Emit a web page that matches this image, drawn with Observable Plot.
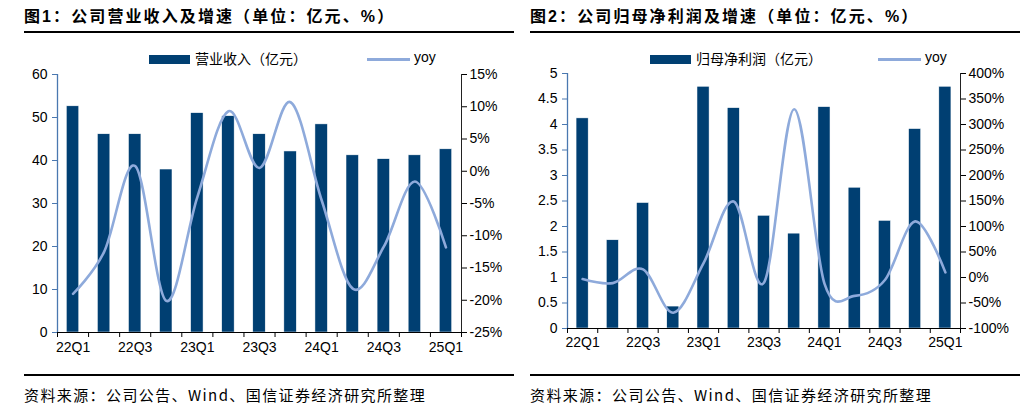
<!DOCTYPE html>
<html><head><meta charset="utf-8">
<script src="https://cdn.jsdelivr.net/npm/d3@7"></script>
<script src="https://cdn.jsdelivr.net/npm/@observablehq/plot@0.6"></script>
<style>
body{margin:0;width:1034px;height:410px;background:#fff;position:relative;overflow:hidden;font-family:"Liberation Sans","Noto Sans CJK SC",sans-serif;color:#000}
.abs{position:absolute}
.title{font-family:"Liberation Sans","Noto Sans CJK SC",sans-serif;font-weight:bold;font-size:16px;letter-spacing:2.1px;white-space:nowrap;line-height:20px}
.rule{height:2px;background:#000}
.src{font-family:"Noto Sans CJK SC",sans-serif;font-size:15px;letter-spacing:1.4px;white-space:nowrap;line-height:20px}
.leg{font-family:"Liberation Sans","Noto Sans CJK SC",sans-serif;font-size:14px;white-space:nowrap;line-height:16px}
svg{overflow:visible}
</style></head>
<body>
<script>
const quarters = ["22Q1","22Q2","22Q3","22Q4","23Q1","23Q2","23Q3","23Q4","24Q1","24Q2","24Q3","24Q4","25Q1"];
const tickLabels = ["22Q1","22Q3","23Q1","23Q3","24Q1","24Q3","25Q1"];
const revenue = [52.6,46.1,46.1,37.9,51.0,50.3,46.1,42.1,48.4,41.2,40.3,41.2,42.6];
const revenueYoy = [-19.0,-12.5,0.8,-20.1,-4.0,9.3,0.5,10.7,-4.5,-18.2,-11.7,-1.6,-11.8];
const profit = [4.12,1.73,2.46,0.43,4.74,4.32,2.21,1.86,4.34,2.76,2.11,3.91,4.74];
const profitYoy = [-3,-11,16,-69,28,149,-10,330,-12,-36,-5,110,10];
const revTicks = [0,10,20,30,40,50,60];
const revYoyTicks = [-25,-20,-15,-10,-5,0,5,10,15];
const profTicks = [0,0.5,1,1.5,2,2.5,3,3.5,4,4.5,5];
const profYoyTicks = [-100,-50,0,50,100,150,200,250,300,350,400];

const BAR = "#003f72", LINE = "#8eaadb", AXISBLUE = "#4a78b0";

function el(html, style){const d=document.createElement("div");d.className="abs "+(html.cls||"");d.innerHTML=html.text||"";Object.assign(d.style,style);document.body.appendChild(d);return d;}

function panel(cfg){
  const {left, title, legendLabel, values, yoy, yTicks, yoyTicks, ml, mr, mt, mb, xLabelPad, legRect, legLine, yFmt} = cfg;
  el({cls:"title", text:title},{left:(left+24)+"px", top:"7px"});
  el({cls:"rule"},{left:(left+24)+"px", top:"31px", width:"490px"});
  el({cls:"rule"},{left:(left+24)+"px", top:"374px", width:"490px"});
  el({cls:"src", text:"资料来源：公司公告、Wind、国信证券经济研究所整理"},{left:(left+24)+"px", top:"385px"});
  // legend
  el({},{left:legRect+"px", top:"55px", width:"41px", height:"9px", background:BAR});
  el({cls:"leg", text:legendLabel},{left:(legRect+46)+"px", top:"51px"});
  el({},{left:legLine+"px", top:"58px", width:"43px", height:"3px", background:LINE});
  el({cls:"leg", text:"yoy"},{left:(legLine+47)+"px", top:"49px"});

  const data = values.map((v,i)=>({i, v, y: yoy[i], q: quarters[i]}));
  const n = quarters.length;
  const W = 517, H = 301;
  const boundaries = d3.range(n+1).map(k=>k-0.5);
  const labelIdx = tickLabels.map(t=>quarters.indexOf(t));
  const common = {width:W, height:H, marginLeft:ml, marginRight:mr, marginTop:mt, marginBottom:mb,
    style:{background:"transparent", fontFamily:"Liberation Sans, Arial, sans-serif", fontSize:"14px", color:"#000", overflow:"visible"}};
  const bars = Plot.plot({...common,
    x:{type:"linear", domain:[-0.5, n-0.5], axis:null},
    y:{domain:[yTicks[0], yTicks[yTicks.length-1]], axis:null},
    marks:[
      Plot.rectY(data,{x1:d=>d.i-0.2, x2:d=>d.i+0.2, y:"v", fill:BAR, stroke:"#fff", strokeWidth:0.5}),
      Plot.ruleX([-0.5],{stroke:AXISBLUE, strokeWidth:1.3}),
      Plot.axisY({ticks:yTicks, tickSize:5, tickPadding:5, stroke:AXISBLUE, fill:"#000", fontSize:14, tickFormat:yFmt, label:null}),
      Plot.ruleY([yTicks[0]],{stroke:"#000", strokeWidth:1}),
      Plot.axisX({ticks:boundaries, tickSize:5, tickFormat:()=>"", stroke:"#000", label:null}),
      Plot.axisX({ticks:labelIdx, tickSize:0, tickPadding:xLabelPad, tickFormat:i=>quarters[i], fontSize:14, fill:"#000", label:null})
    ]});
  const lines = Plot.plot({...common,
    x:{type:"linear", domain:[-0.5, n-0.5], axis:null},
    y:{domain:[yoyTicks[0], yoyTicks[yoyTicks.length-1]], axis:null},
    marks:[
      Plot.line(data,{x:"i", y:"y", stroke:LINE, strokeWidth:2.6, curve:"cardinal"}),
      Plot.ruleX([n-0.5],{stroke:"#222", strokeWidth:1}),
      Plot.axisY({anchor:"right", ticks:yoyTicks, tickSize:5, tickPadding:3, stroke:"#000", fill:"#000", fontSize:14, tickFormat:d=>d+"%", label:null})
    ]});
  for (const s of [bars, lines]) {
    s.style.position="absolute"; s.style.left=left+"px"; s.style.top="64px";
    document.body.appendChild(s);
  }
}

panel({left:0, title:"图1：公司营业收入及增速（单位：亿元、%）", legendLabel:"营业收入（亿元）",
  values:revenue, yoy:revenueYoy, yTicks:revTicks, yoyTicks:revYoyTicks,
  ml:57, mr:56, mt:10, mb:33, xLabelPad:10, legRect:149, legLine:367, yFmt:d=>String(d)});
panel({left:506, title:"图2：公司归母净利润及增速（单位：亿元、%）", legendLabel:"归母净利润（亿元）",
  values:profit, yoy:profitYoy, yTicks:profTicks, yoyTicks:profYoyTicks,
  ml:61, mr:63, mt:9, mb:37, xLabelPad:9, legRect:650, legLine:878, yFmt:d=>String(d)});
</script>
</body></html>
